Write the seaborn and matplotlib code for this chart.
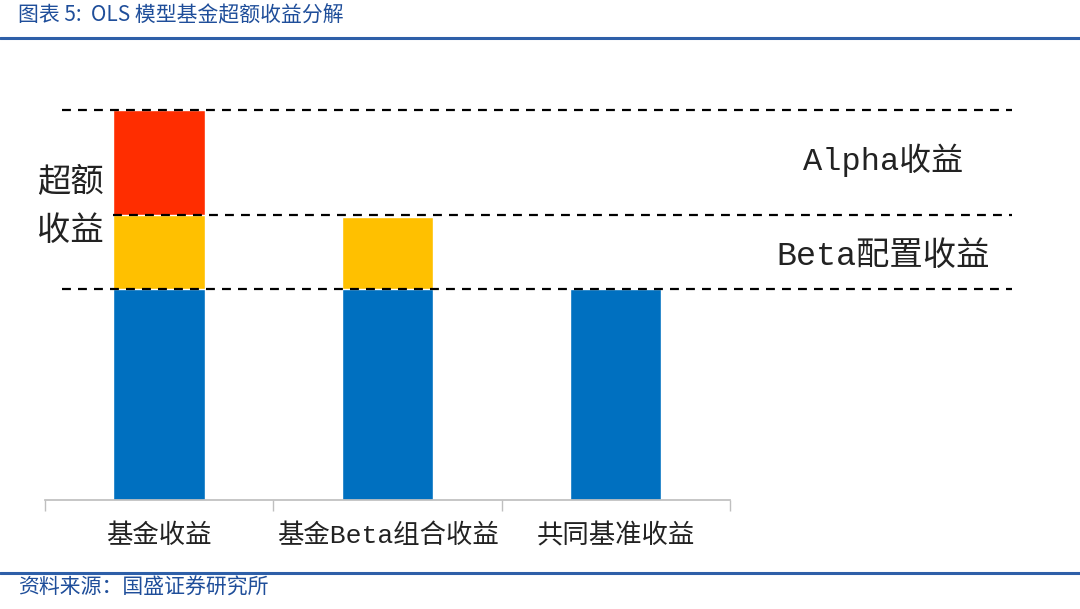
import numpy as np
import pandas as pd
import matplotlib
matplotlib.use("Agg")
import matplotlib.pyplot as plt
import seaborn as sns

# data
categories = ["基金收益", "基金Beta组合收益", "共同基准收益"]
benchmark  = [2.00, 2.00, 2.00]   # 共同基准收益
beta_part  = [0.70, 0.68, 0.00]   # Beta配置收益
alpha_part = [1.00, 0.00, 0.00]   # Alpha收益

title_text  = "图表 5:  OLS 模型基金超额收益分解"
source_text = "资料来源：国盛证券研究所"

sns.set_theme(style="white")
plt.rcParams["font.family"] = ["Noto Sans CJK SC", "DejaVu Sans"]
mixed = ["Liberation Mono", "Noto Sans CJK SC"]

df = pd.DataFrame({"cat": categories,
                   "base": benchmark,
                   "beta": np.add(benchmark, beta_part),
                   "total": np.add(np.add(benchmark, beta_part), alpha_part)})

fig = plt.figure(figsize=(10.8, 6.09), dpi=100)
ax = fig.add_axes([45 / 1080, 109 / 609, 970 / 1080, 410 / 609])

# layered bars = stacked look
sns.barplot(data=df, x="cat", y="total", order=categories, color="#FF2D00",
            width=0.40, saturation=1, ax=ax)
sns.barplot(data=df, x="cat", y="beta", order=categories, color="#FFC000",
            width=0.40, saturation=1, ax=ax)
sns.barplot(data=df, x="cat", y="base", order=categories, color="#0070C0",
            width=0.40, saturation=1, ax=ax)

ax.set_xlim(-0.5, 3.749)
ax.set_ylim(0, 3.886)
ax.set_xlabel("")
ax.set_ylabel("")
ax.set_yticks([])
for s in ["top", "right", "left"]:
    ax.spines[s].set_visible(False)
ax.spines["bottom"].set_color("#BFBFBF")
ax.spines["bottom"].set_bounds(-0.5, len(categories) - 0.5)
ax.set_xticks(range(len(categories)))
ax.set_xticklabels(categories, fontsize=19, family=mixed, color="#222222")
ax.tick_params(axis="x", length=0, pad=17)
ax.set_xticks(np.arange(-0.5, len(categories)), minor=True)
ax.tick_params(axis="x", which="minor", length=8, color="#BFBFBF",
               direction="out", bottom=True)

# dashed reference lines at the levels of the first bar
levels = [df["base"][0], df["beta"][0], df["total"][0]]
starts = [-0.425, -0.2, -0.425]
for lv, x0 in zip(levels, starts):
    ax.plot([x0, 3.736], [lv, lv], ls=(0, (4, 3.2)), color="black",
            lw=1.6, clip_on=False, zorder=5)

ax.text(3.17, (levels[1] + levels[2]) / 2 + 0.02, "Alpha收益", ha="center",
        va="center", fontsize=23, family=mixed, color="#222222")
ax.text(3.17, (levels[0] + levels[1]) / 2 - 0.04, "Beta配置收益", ha="center",
        va="center", fontsize=24, family=mixed, color="#222222")
ax.text(-0.39, levels[1] + 0.08, "超额\n收益", ha="center", va="center",
        fontsize=24, linespacing=1.5, color="#222222")

# title / source with rules
fig.text(18 / 1080, 1 - 15 / 609, title_text, ha="left", va="center",
         fontsize=15, style="italic", color="#1F4E9A")
fig.text(18 / 1080, 1 - 588 / 609, source_text, ha="left", va="center",
         fontsize=15, style="italic", color="#1F4E9A")
for yy in [38, 573]:
    fig.add_artist(plt.Line2D([0, 1], [1 - yy / 609] * 2, color="#2E5FA8",
                              lw=2.2, transform=fig.transFigure))

plt.savefig("out.png", dpi=100)
